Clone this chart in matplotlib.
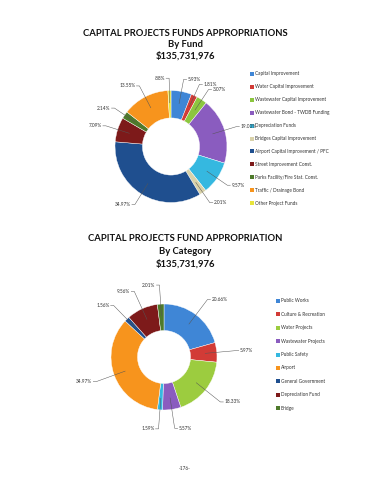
import numpy as np
import matplotlib
matplotlib.use("Agg")
import matplotlib.pyplot as plt

plt.rcParams['font.family'] = ['Lato', 'DejaVu Sans']

# ---- Data ----
fund_labels = ["Capital Improvement", "Water Capital Improvement", "Wastewater Capital Improvement",
               "Wastewater Bond - TWDB Funding", "Depreciation Funds", "Bridges Capital Improvement",
               "Airport Capital Improvement / PFC", "Street Improvement Const.",
               "Parks Facility/Fire Stat. Const.", "Traffic / Drainage Bond", "Other Project Funds"]
fund_values = [5.93, 1.81, 3.07, 19.00, 9.57, 2.01, 34.97, 7.09, 2.14, 13.55, 0.88]
fund_texts = ["5.93%", "1.81%", "3.07%", "19.00%", "9.57%", "2.01%", "34.97%", "7.09%", "2.14%", "13.55%", ".88%"]
fund_colors = ["#3f86d6", "#d23b36", "#8cc63f", "#8a5cbf", "#35b8e0", "#d9d2a9",
               "#1f4f8f", "#7d1a1a", "#4e7a2b", "#f7941d", "#e8e43a"]

cat_labels = ["Public Works", "Culture & Recreation", "Water Projects", "Wastewater Projects",
              "Public Safety", "Airport", "General Government", "Depreciation Fund", "Bridge"]
cat_values = [20.66, 5.97, 18.33, 5.57, 1.59, 34.97, 1.56, 9.56, 2.01]
cat_texts = ["20.66%", "5.97%", "18.33%", "5.57%", "1.59%", "34.97%", "1.56%", "9.56%", "2.01%"]
cat_colors = ["#3f86d6", "#d23b36", "#9ccc3f", "#8a5cbf", "#35b8e0", "#f7941d",
              "#1f4f8f", "#7d1a1a", "#4e7a2b"]

title1 = ["CAPITAL PROJECTS FUNDS APPROPRIATIONS", "By Fund", "$135,731,976"]
title2 = ["CAPITAL PROJECTS FUND APPROPRIATION", "By Category", "$135,731,976"]
footer = "-176-"

W, H = 370, 480
fig = plt.figure(figsize=(W / 100, H / 100), dpi=100)
ax = fig.add_axes([0, 0, 1, 1])

def Y(py):
    return H - py

def donut(values, texts, colors, cx, cy, r, ratio, label_r):
    ax.pie(values, colors=colors, center=(cx, Y(cy)), radius=r, startangle=90,
           counterclock=False,
           wedgeprops=dict(width=r * (1 - ratio), edgecolor="white", linewidth=0.3))
    total = sum(values)
    cum = 0
    for v, t in zip(values, texts):
        mid = (cum + v / 2) / total * 360
        cum += v
        ang = np.deg2rad(90 - mid)
        dx, dy = np.cos(ang), np.sin(ang)
        x0, y0 = cx + dx * r * 0.78, Y(cy) + dy * r * 0.78
        x1, y1 = cx + dx * r * label_r, Y(cy) + dy * r * label_r
        side = 1 if dx >= 0 else -1
        x2 = x1 + side * 3
        ax.plot([x0, x1, x2], [y0, y1, y1], color="#555555", lw=0.35)
        ax.text(x2 + side * 1, y1, t, fontsize=3.4, color="#333333",
                ha="left" if side > 0 else "right", va="center")

def legend(labels, colors, x, y0, step):
    for i, (lab, c) in enumerate(zip(labels, colors)):
        yy = Y(y0 + i * step)
        ax.scatter([x], [yy], marker="s", s=5, color=c, linewidths=0)
        ax.text(x + 2.8, yy, lab, fontsize=3.4, color="#333333", va="center", ha="left")

def title(lines, ys):
    for ln, yy in zip(lines, ys):
        ax.text(185, Y(yy), ln, fontsize=6.8, fontweight="bold", ha="center", va="center",
                color="#111111")

title(title1, [33, 44.5, 56])
donut(fund_values, fund_texts, fund_colors, 171, 146.5, 56, 0.51, 1.22)
legend(fund_labels, fund_colors, 252, 74, 12.9)

title(title2, [238.7, 251.3, 263.7])
donut(cat_values, cat_texts, cat_colors, 164, 357, 53, 0.5, 1.36)
legend(cat_labels, cat_colors, 278, 301, 13.4)

ax.text(185, Y(468), footer, fontsize=3.4, ha="center", va="center", color="#333333")

ax.set_xlim(0, W)
ax.set_ylim(0, H)
ax.set_aspect("equal")
ax.axis("off")
fig.savefig("out.png", dpi=100)
